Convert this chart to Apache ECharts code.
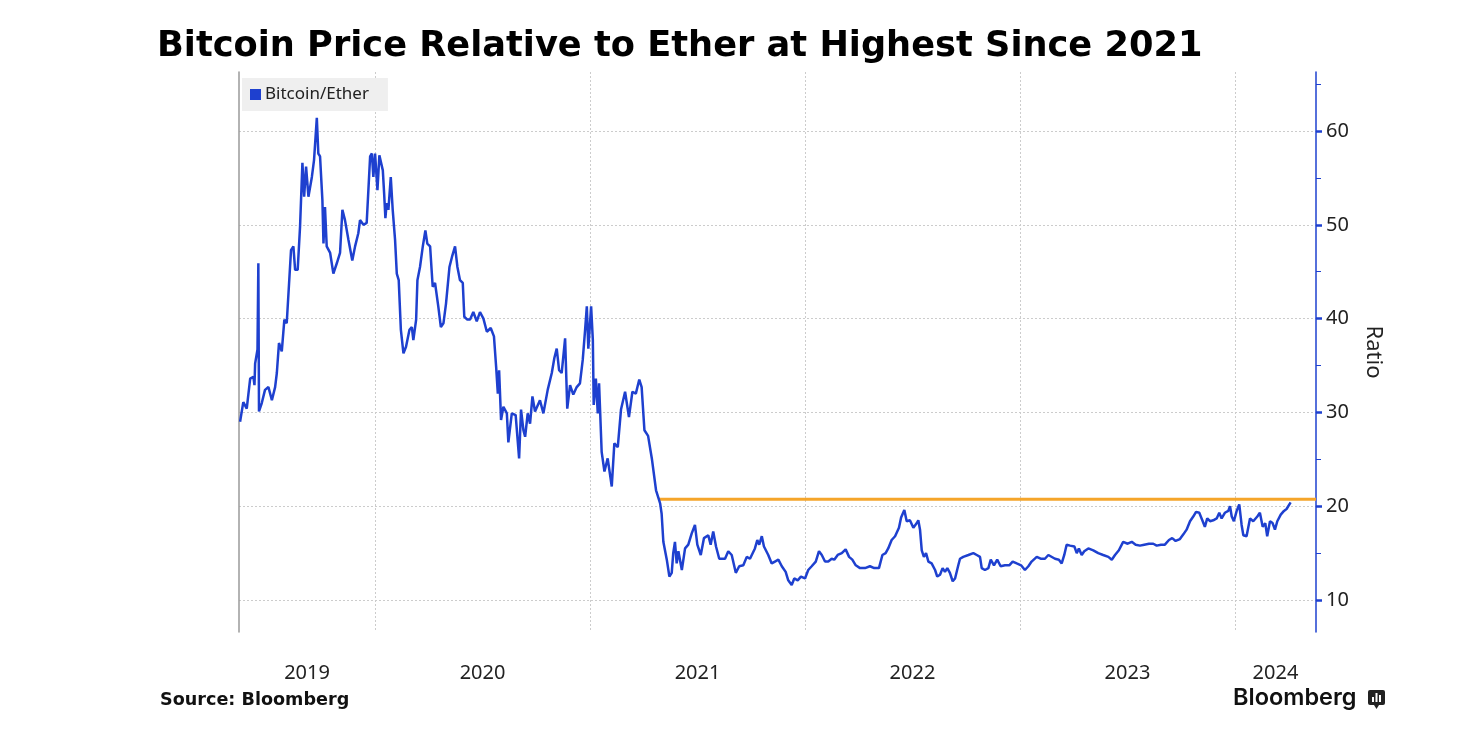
<!DOCTYPE html>
<html><head><meta charset="utf-8">
<script src="https://cdn.jsdelivr.net/npm/echarts@6/dist/echarts.min.js"></script>
<style>html,body{margin:0;padding:0;background:#fff}#c{width:1480px;height:750px}</style>
</head><body><div id="c"></div>
<script>
// Decimal-year dates of each observation
const dates = [
2019.372,2019.387,2019.403,2019.419,2019.434,2019.439,2019.442,2019.453,2019.457,2019.460,
2019.473,2019.488,2019.504,2019.520,2019.535,2019.543,2019.553,2019.566,2019.578,2019.589,
2019.600,2019.609,2019.620,2019.628,2019.640,2019.651,2019.662,2019.670,2019.679,2019.690,
2019.706,2019.716,2019.729,2019.736,2019.744,2019.755,2019.760,2019.767,2019.775,2019.791,
2019.806,2019.822,2019.837,2019.848,2019.860,2019.876,2019.894,2019.907,2019.922,2019.930,
2019.946,2019.961,2019.977,2019.985,2019.992,2020.000,2020.011,2020.020,2020.036,2020.042,
2020.048,2020.054,2020.062,2020.073,2020.082,2020.093,2020.101,2020.110,2020.120,2020.132,
2020.144,2020.160,2020.171,2020.178,2020.191,2020.197,2020.209,2020.222,2020.234,2020.243,
2020.256,2020.268,2020.279,2020.294,2020.306,2020.318,2020.330,2020.346,2020.358,2020.372,
2020.383,2020.395,2020.408,2020.415,2020.429,2020.442,2020.457,2020.473,2020.488,2020.504,
2020.520,2020.538,2020.553,2020.563,2020.571,2020.577,2020.586,2020.597,2020.605,2020.613,
2020.620,2020.636,2020.654,2020.670,2020.679,2020.690,2020.698,2020.710,2020.721,2020.732,
2020.744,2020.767,2020.783,2020.803,2020.822,2020.834,2020.845,2020.856,2020.868,2020.884,
2020.894,2020.907,2020.922,2020.938,2020.953,2020.966,2020.977,2020.985,2020.992,2021.005,
2021.013,2021.017,2021.027,2021.036,2021.042,2021.054,2021.067,2021.082,2021.101,2021.113,
2021.129,2021.144,2021.163,2021.181,2021.197,2021.213,2021.229,2021.240,2021.253,2021.270,
2021.288,2021.307,2021.326,2021.333,2021.341,2021.357,2021.369,2021.380,2021.387,2021.395,
2021.403,2021.411,2021.427,2021.442,2021.457,2021.473,2021.488,2021.499,2021.515,2021.530,
2021.550,2021.561,2021.573,2021.586,2021.601,2021.628,2021.643,2021.659,2021.678,2021.694,
2021.713,2021.729,2021.744,2021.767,2021.778,2021.787,2021.799,2021.809,2021.829,2021.845,
2021.860,2021.876,2021.892,2021.910,2021.922,2021.938,2021.950,2021.966,2021.981,2022.000,
2022.015,2022.031,2022.050,2022.065,2022.078,2022.093,2022.108,2022.124,2022.136,2022.152,
2022.171,2022.189,2022.205,2022.220,2022.236,2022.256,2022.279,2022.302,2022.322,2022.344,
2022.360,2022.375,2022.387,2022.403,2022.419,2022.437,2022.447,2022.462,2022.473,2022.488,
2022.504,2022.520,2022.527,2022.535,2022.543,2022.553,2022.563,2022.574,2022.589,2022.605,
2022.615,2022.628,2022.640,2022.651,2022.662,2022.674,2022.687,2022.698,2022.713,2022.721,
2022.736,2022.760,2022.783,2022.799,2022.814,2022.822,2022.837,2022.853,2022.864,2022.879,
2022.894,2022.910,2022.930,2022.950,2022.966,2022.985,2023.005,2023.023,2023.039,2023.054,
2023.078,2023.096,2023.116,2023.132,2023.140,2023.163,2023.181,2023.194,2023.206,2023.217,
2023.233,2023.253,2023.264,2023.274,2023.287,2023.299,2023.318,2023.341,2023.364,2023.387,
2023.411,2023.427,2023.442,2023.460,2023.480,2023.501,2023.520,2023.538,2023.558,2023.578,
2023.600,2023.620,2023.636,2023.656,2023.674,2023.693,2023.708,2023.724,2023.744,2023.760,
2023.775,2023.791,2023.806,2023.819,2023.834,2023.850,2023.860,2023.871,2023.884,2023.899,
2023.915,2023.927,2023.938,2023.953,2023.969,2023.977,2023.985,2023.995,2024.008,2024.020,
2024.031,2024.039,2024.054,2024.070,2024.085,2024.104,2024.116,2024.129,2024.141,2024.150,
2024.163,2024.175,2024.186,2024.197,2024.213,2024.228,2024.240,2024.259
];
// Bitcoin / Ether price ratio
const ratio = [
29.0,31.1,30.4,33.6,33.8,32.9,35.2,36.7,45.9,30.1,
31.0,32.4,32.7,31.3,32.7,34.2,37.4,36.5,39.9,39.5,
43.8,47.3,47.7,45.2,45.2,49.8,56.6,53.0,56.2,53.0,
55.1,56.9,61.4,57.6,57.3,52.6,48.0,51.9,47.7,47.0,
44.8,45.9,47.0,51.6,50.5,48.4,46.2,47.7,49.1,50.5,
50.0,50.2,57.3,57.6,55.1,57.6,53.7,57.4,55.8,53.4,
50.7,52.3,51.6,55.1,51.6,48.4,44.8,44.1,38.8,36.3,
37.0,38.8,39.1,37.7,39.9,44.1,45.5,47.7,49.4,48.0,
47.7,43.4,43.8,41.3,39.1,39.5,41.6,45.5,46.6,47.7,
45.5,44.1,43.8,40.2,39.9,39.9,40.7,39.7,40.7,40.0,
38.6,39.0,38.1,34.9,32.0,34.5,29.2,30.6,30.6,29.9,
26.8,29.9,29.7,25.1,30.3,28.1,27.4,29.9,28.8,31.7,
30.1,31.3,29.9,32.4,34.2,35.8,36.8,34.5,34.2,37.9,
30.4,32.9,31.9,32.7,33.1,35.6,38.8,41.3,36.8,41.3,
37.7,30.8,33.6,29.9,33.1,25.8,23.7,25.1,22.1,26.7,
26.3,30.3,32.2,29.5,32.2,32.0,33.5,32.7,28.1,27.5,
25.0,21.7,20.3,19.2,16.2,14.3,12.5,12.9,15.0,16.2,
13.9,15.2,13.2,15.5,15.9,17.1,18.0,15.9,14.8,16.6,
16.9,15.9,17.3,15.7,14.4,14.4,15.2,14.8,12.9,13.6,
13.7,14.6,14.4,15.5,16.4,15.9,16.8,15.7,14.8,13.9,
14.1,14.3,13.6,13.0,12.1,11.6,12.3,12.1,12.5,12.3,
13.2,13.6,14.1,15.2,14.8,14.1,14.1,14.4,14.3,14.8,
15.0,15.4,14.6,14.3,13.7,13.4,13.4,13.6,13.4,13.4,
14.8,15.0,15.5,16.4,16.8,17.7,18.8,19.6,18.4,18.5,
17.7,18.2,18.5,17.5,15.3,14.6,15.0,14.1,13.9,13.2,
12.5,12.7,13.4,13.0,13.4,12.9,12.0,12.3,13.7,14.4,
14.6,14.8,15.0,14.8,14.6,13.4,13.2,13.4,14.3,13.7,
14.3,13.6,13.7,13.7,14.1,13.9,13.7,13.2,13.6,14.1,
14.6,14.4,14.4,14.8,14.6,14.4,14.3,13.9,14.8,15.9,
15.8,15.7,15.0,15.5,14.8,15.2,15.5,15.3,15.0,14.8,
14.6,14.3,14.8,15.3,16.2,16.0,16.2,15.9,15.8,15.9,
16.0,16.0,15.8,15.9,15.9,16.4,16.6,16.3,16.5,17.0,
17.5,18.4,18.9,19.4,19.3,18.4,17.8,18.7,18.4,18.5,
18.7,19.3,18.7,19.3,19.5,20.0,18.9,18.4,19.5,20.2,
18.0,16.9,16.8,18.7,18.4,18.9,19.3,17.8,18.2,16.8,
18.4,18.2,17.5,18.4,19.1,19.5,19.7,20.4
];
const yearLabels = ['2019','2020','2021','2022','2023','2024'];
const yearStarts = [2020,2021,2022,2023,2024];
const yTickValues = [10,20,30,40,50,60];
const yMinorValues = [15,25,35,45,55,65];
const xMin = 2019.367, xMax = 2024.377;
const yMin = 6.59, yMax = 66.29;
const refStart = 2021.318, refValue = 20.75;

const seriesData = dates.map((d, i) => [d, ratio[i]]);
const bounds = [xMin].concat(yearStarts, [xMax]);
const labelPos = [];
for (let i = 0; i < bounds.length - 1; i++) labelPos.push((bounds[i] + bounds[i + 1]) / 2);

const BLUE = '#1e40cf';
const chart = echarts.init(document.getElementById('c'), null, {renderer: 'canvas'});
chart.setOption({
  animation: false,
  backgroundColor: '#ffffff',
  title: {
    text: 'Bitcoin Price Relative to Ether at Highest Since 2021',
    left: 152, top: 24,
    textStyle: {fontFamily: 'DejaVu Sans', fontWeight: 'bold', fontSize: 35.2, color: '#000'}
  },
  legend: {
    data: ['Bitcoin/Ether'],
    left: 242, top: 78,
    padding: [8, 19, 8, 8],
    backgroundColor: '#efefef',
    icon: 'rect', itemWidth: 11, itemHeight: 11, itemGap: 5,
    textStyle: {fontFamily: 'Noto Sans', fontSize: 17, color: '#222', padding: [0, 0, 0, -1]}
  },
  grid: {left: 239, right: 164, top: 72, bottom: 118},
  xAxis: {
    type: 'value', min: xMin, max: xMax,
    axisLine: {show: false},
    axisTick: {show: false, customValues: yearStarts},
    axisLabel: {
      customValues: labelPos, margin: 31,
      fontFamily: 'Noto Sans', fontSize: 20, color: '#222',
      formatter: v => yearLabels[Math.floor(v) - 2019]
    },
    splitLine: {show: true, lineStyle: {type: [2, 2], color: '#cccccc', width: 1}}
  },
  yAxis: [
    {
      type: 'value', position: 'right', min: yMin, max: yMax,
      name: 'Ratio', nameLocation: 'middle', nameRotate: -90, nameGap: 46,
      nameTextStyle: {fontFamily: 'Noto Sans', fontSize: 22, color: '#222'},
      axisLine: {show: true, lineStyle: {color: BLUE, width: 1.5}},
      axisTick: {show: true, customValues: yTickValues, length: 6, lineStyle: {color: BLUE, width: 2.5}},
      axisLabel: {customValues: yTickValues, margin: 10, fontFamily: 'Noto Sans', fontSize: 20, color: '#222'},
      splitLine: {show: true, lineStyle: {type: [2, 2], color: '#cccccc', width: 1}}
    },
    {
      type: 'value', position: 'right', min: yMin, max: yMax,
      axisLine: {show: false},
      axisTick: {show: true, customValues: yMinorValues, length: 5, lineStyle: {color: BLUE, width: 1}},
      axisLabel: {show: false}, splitLine: {show: false}
    },
    {
      type: 'value', position: 'left', min: yMin, max: yMax,
      axisLine: {show: true, lineStyle: {color: '#9a9a9a', width: 1.5}},
      axisTick: {show: false}, axisLabel: {show: false}, splitLine: {show: false}
    }
  ],
  series: [
    {
      name: 'Ref', type: 'line', yAxisIndex: 0, silent: true,
      data: [[refStart, refValue], [xMax, refValue]],
      showSymbol: false, symbol: 'none',
      lineStyle: {color: '#f5a52a', width: 3}, z: 1
    },
    {
      name: 'Bitcoin/Ether', type: 'line', yAxisIndex: 0,
      data: seriesData, showSymbol: false, symbol: 'none',
      color: BLUE,
      lineStyle: {color: BLUE, width: 2.5}, z: 2
    }
  ],
  graphic: [
    {type: 'text', left: 160, top: 691,
     style: {text: 'Source: Bloomberg', fontFamily: 'DejaVu Sans', fontWeight: 'bold', fontSize: 17.6, fill: '#111'}},
    {type: 'text', left: 1233, top: 686,
     style: {text: 'Bloomberg', fontFamily: 'Inter', fontWeight: 600, fontSize: 23.5, fill: '#111'}},
    {type: 'group', left: 1368, top: 690, children: [
      {type: 'rect', shape: {x: 0, y: 0, width: 17, height: 15, r: 2}, style: {fill: '#222'}},
      {type: 'polygon', shape: {points: [[6, 15], [11, 15], [8.5, 19]]}, style: {fill: '#222'}},
      {type: 'rect', shape: {x: 4, y: 7, width: 2, height: 5}, style: {fill: '#fff'}},
      {type: 'rect', shape: {x: 7.5, y: 3, width: 2, height: 9}, style: {fill: '#fff'}},
      {type: 'rect', shape: {x: 11, y: 5, width: 2, height: 7}, style: {fill: '#fff'}}
    ]}
  ]
});
</script></body></html>
